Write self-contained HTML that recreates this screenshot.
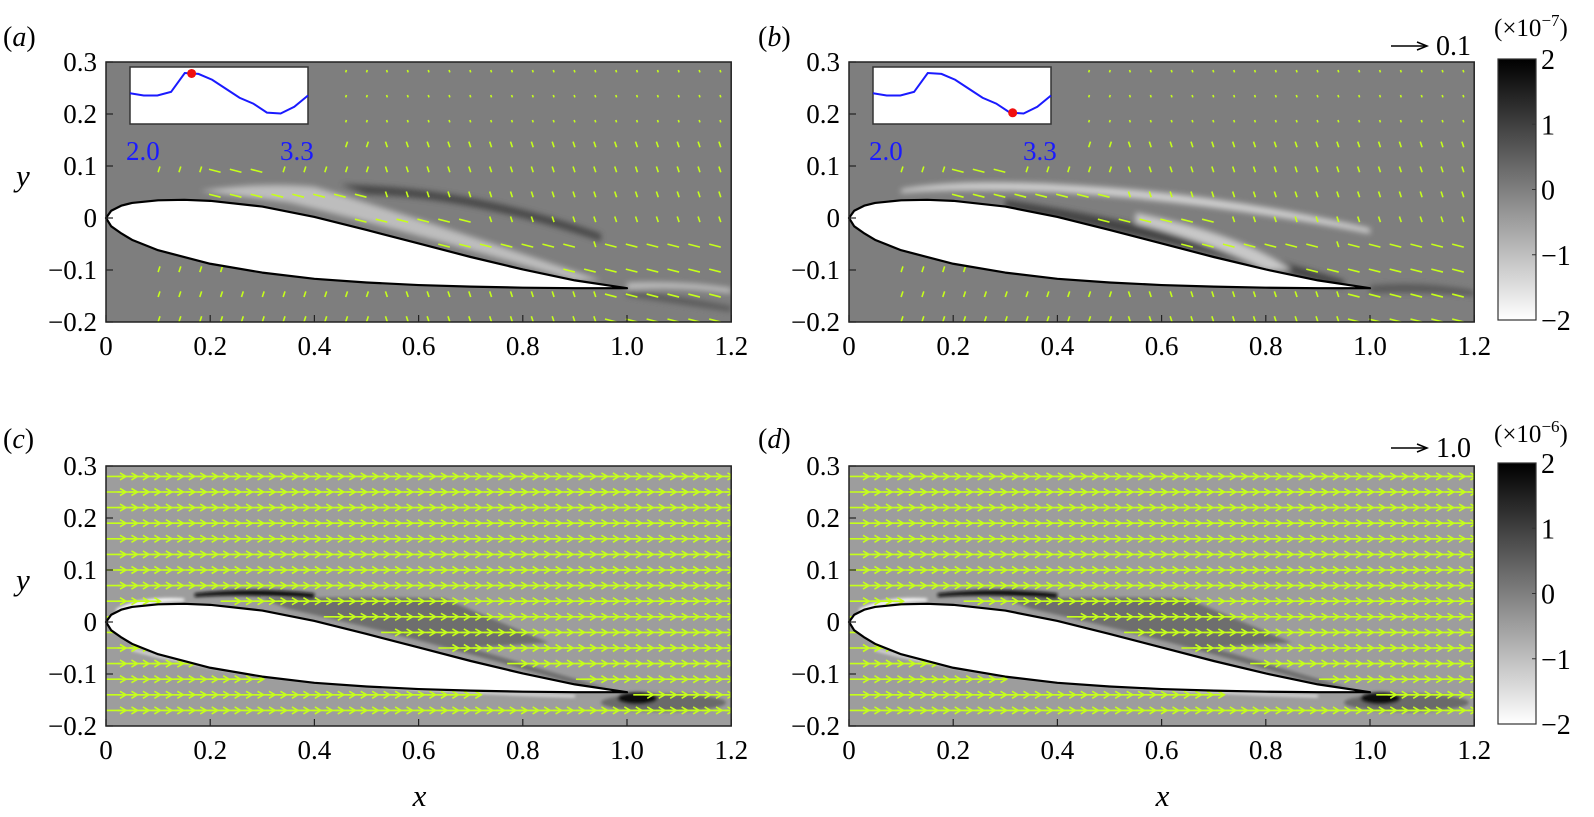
<!DOCTYPE html>
<html><head><meta charset="utf-8">
<style>
body{margin:0;background:#fff;}
svg{display:block;}
svg text{font-family:"Liberation Serif",serif;}
</style></head>
<body>
<svg id="fig" width="1594" height="817" viewBox="0 0 1594 817" xmlns="http://www.w3.org/2000/svg" font-family="Liberation Serif, serif">
<defs>
<filter id="bl" x="-20%" y="-50%" width="140%" height="200%"><feGaussianBlur stdDeviation="3"/></filter>
<filter id="bl2" x="-20%" y="-50%" width="140%" height="200%"><feGaussianBlur stdDeviation="1.5"/></filter>
<linearGradient id="cbar" x1="0" y1="0" x2="0" y2="1"><stop offset="0" stop-color="#000"/><stop offset="0.5" stop-color="#7f7f7f"/><stop offset="1" stop-color="#fff"/></linearGradient>
</defs>
<g id="root"></g>
</svg>
<script>
// ---- data ----
const xTicks=[0,0.2,0.4,0.6,0.8,1.0,1.2];
const xTickLabels=["0","0.2","0.4","0.6","0.8","1.0","1.2"];
const yTicks=[0.3,0.2,0.1,0,-0.1,-0.2];
const yTickLabels=["0.3","0.2","0.1","0","\u22120.1","\u22120.2"];
const upperX=[0,0.01,0.03,0.05,0.1,0.15,0.2,0.3,0.4,0.5,0.6,0.7,0.8,0.9,1.0];
const upperY=[0,0.014,0.024,0.029,0.034,0.035,0.033,0.022,0.002,-0.023,-0.049,-0.075,-0.099,-0.12,-0.135];
const lowerX=[0,0.01,0.03,0.05,0.1,0.2,0.3,0.4,0.5,0.6,0.7,0.8,0.9,1.0];
const lowerY=[0,-0.016,-0.03,-0.042,-0.062,-0.088,-0.105,-0.117,-0.124,-0.129,-0.132,-0.134,-0.135,-0.135];
const insetT=[2.0,2.1,2.2,2.3,2.4,2.5,2.6,2.7,2.8,2.9,3.0,3.1,3.2,3.3];
const insetV=[0.55,0.5,0.5,0.58,1.0,0.98,0.85,0.65,0.45,0.32,0.12,0.1,0.25,0.5];
const insetMarkA=2.45, insetMarkB=3.02;
const rowYcd=[0.28,0.25,0.22,0.19,0.16,0.13,0.10,0.07,0.04,0.01,-0.02,-0.05,-0.08,-0.11,-0.14,-0.17];
const cbLabels=["2","1","0","\u22121","\u22122"];
const cbValues=[2,1,0,-1,-2];

const NS="http://www.w3.org/2000/svg";
const root=document.getElementById('root');
function el(t,a,p){const e=document.createElementNS(NS,t);for(const k in a)e.setAttribute(k,a[k]);(p||root).appendChild(e);return e;}
function txt(a,p){a['font-family']='Liberation Serif, serif';return el('text',a,p);}

const panels=[
 {id:'a',x0:106,y0:62,bg:'#7e7e7e',lx:3,ly:46,top:true,mark:insetMarkA,inset:true},
 {id:'b',x0:849,y0:62,bg:'#7e7e7e',lx:758,ly:46,top:true,mark:insetMarkB,inset:true},
 {id:'c',x0:106,y0:466,bg:'#9d9d9d',lx:3,ly:448,top:false},
 {id:'d',x0:849,y0:466,bg:'#9d9d9d',lx:758,ly:448,top:false}
];
const SX=521, SY=520;

panels.forEach(P=>{
 const X=v=>P.x0+v*SX, Y=v=>P.y0+(0.3-v)*SY;
 const g=el('g',{});
 
 
 const bg=el('rect',{x:X(0),y:Y(0.3),width:X(1.2)-X(0),height:Y(-0.2)-Y(0.3),fill:P.bg},g);
 
 
 const clipId='clip'+P.id;
 const cp=el('clipPath',{id:clipId},g);
 el('rect',{x:X(0),y:Y(0.3),width:X(1.2)-X(0),height:Y(-0.2)-Y(0.3)},cp);
 const fg=el('g',{'clip-path':'url(#'+clipId+')'},g);
 if(P.top){
  const f=el('g',{filter:'url(#bl)'},fg);
  
  
  if(P.id==='a'){
   el('path',{d:`M${X(0.18)},${Y(0.052)} Q${X(0.3)},${Y(0.07)} ${X(0.4)},${Y(0.06)} Q${X(0.6)},${Y(0.0)} ${X(0.95)},${Y(-0.12)} L${X(0.9)},${Y(-0.12)} Q${X(0.6)},${Y(-0.03)} ${X(0.35)},${Y(0.03)} Z`,fill:'#bdbdbd'},f);
   el('path',{d:`M${X(0.45)},${Y(0.065)} Q${X(0.7)},${Y(0.06)} ${X(0.95)},${Y(-0.03)} L${X(0.95)},${Y(-0.045)} Q${X(0.7)},${Y(0.04)} ${X(0.5)},${Y(0.045)} Z`,fill:'#4a4a4a'},f);
   el('path',{d:`M${X(1.0)},${Y(-0.14)} Q${X(1.1)},${Y(-0.15)} ${X(1.2)},${Y(-0.17)} L${X(1.2)},${Y(-0.18)} Q${X(1.1)},${Y(-0.165)} ${X(1.0)},${Y(-0.15)} Z`,fill:'#5a5a5a'},f);
   el('path',{d:`M${X(1.0)},${Y(-0.125)} Q${X(1.1)},${Y(-0.12)} ${X(1.2)},${Y(-0.135)} L${X(1.2)},${Y(-0.145)} Q${X(1.1)},${Y(-0.13)} ${X(1.0)},${Y(-0.138)} Z`,fill:'#c0c0c0'},f);
  } else {
   el('path',{d:`M${X(0.1)},${Y(0.055)} Q${X(0.2)},${Y(0.075)} ${X(0.4)},${Y(0.065)} Q${X(0.7)},${Y(0.05)} ${X(1.0)},${Y(-0.02)} L${X(1.0)},${Y(-0.03)} Q${X(0.7)},${Y(0.03)} ${X(0.4)},${Y(0.05)} Q${X(0.2)},${Y(0.058)} ${X(0.1)},${Y(0.048)} Z`,fill:'#cfcfcf'},f);
   el('path',{d:`M${X(0.3)},${Y(0.035)} Q${X(0.6)},${Y(-0.01)} ${X(0.95)},${Y(-0.12)} L${X(0.95)},${Y(-0.135)} Q${X(0.6)},${Y(-0.04)} ${X(0.3)},${Y(0.02)} Z`,fill:'#454545'},f);
   el('path',{d:`M${X(0.55)},${Y(0.01)} Q${X(0.75)},${Y(-0.03)} ${X(0.85)},${Y(-0.1)} L${X(0.8)},${Y(-0.1)} Q${X(0.7)},${Y(-0.05)} ${X(0.55)},${Y(-0.01)} Z`,fill:'#c8c8c8'},f);
   el('path',{d:`M${X(1.0)},${Y(-0.13)} Q${X(1.1)},${Y(-0.12)} ${X(1.2)},${Y(-0.14)} L${X(1.2)},${Y(-0.15)} Q${X(1.1)},${Y(-0.14)} ${X(1.0)},${Y(-0.145)} Z`,fill:'#5a5a5a'},f);
  }
 } else {
  const f=el('g',{filter:'url(#bl2)'},fg);
  
  
  el('path',{d:`M${X(0.3)},${Y(0.045)} Q${X(0.5)},${Y(0.05)} ${X(0.65)},${Y(0.045)} L${X(0.85)},${Y(-0.04)} L${X(0.7)},${Y(-0.05)} L${X(0.97)},${Y(-0.13)} L${X(0.9)},${Y(-0.12)} Q${X(0.6)},${Y(-0.03)} ${X(0.35)},${Y(0.025)} Z`,fill:'#6e6e6e'},f);
  el('path',{d:`M${X(0.17)},${Y(0.055)} Q${X(0.28)},${Y(0.068)} ${X(0.4)},${Y(0.055)} L${X(0.4)},${Y(0.045)} Q${X(0.28)},${Y(0.055)} ${X(0.17)},${Y(0.048)} Z`,fill:'#0a0a0a'},f);
  el('path',{d:`M${X(0.02)},${Y(0.025)} Q${X(0.07)},${Y(0.05)} ${X(0.15)},${Y(0.045)} L${X(0.15)},${Y(0.04)} Q${X(0.07)},${Y(0.04)} ${X(0.02)},${Y(0.015)} Z`,fill:'#fff'},f);
  el('path',{d:`M${X(0.05)},${Y(-0.05)} Q${X(0.3)},${Y(-0.12)} ${X(0.9)},${Y(-0.14)} L${X(0.9)},${Y(-0.145)} Q${X(0.3)},${Y(-0.125)} ${X(0.05)},${Y(-0.055)} Z`,fill:'#e5e5e5'},f);
  el('ellipse',{cx:X(1.07),cy:Y(-0.155),rx:X(0.12)-X(0),ry:9,fill:'#6a6a6a'},f);
  el('ellipse',{cx:X(1.02),cy:Y(-0.147),rx:20,ry:6,fill:'#080808'},f);
 }
 const vg=el('g',{stroke:'#c6ff1a','stroke-width':1.6,fill:'none'},fg);
 
 
 if(!P.top){
  rowYcd.forEach(ry=>{
   for(let xx=0.0;xx<1.2;xx+=0.022){
    if(xx>-0.01 && xx<1.0){
     let up=interp(upperX,upperY,xx), lo=interp(lowerX,lowerY,xx);
     if(ry<up+0.008 && ry>lo-0.008) continue;
    }
    const x1=X(xx), y1=Y(ry), x2=x1+20;
    el('line',{x1:x1,y1:y1,x2:x2,y2:y1},vg);
    el('path',{d:`M${x2-6},${y1-3.5} L${x2},${y1} L${x2-6},${y1+3.5}`},vg);
   }
  });
 } else {
  for(let ry=0.28; ry>-0.2; ry-=0.048){
   for(let xx=0.1;xx<1.2;xx+=0.04){
    if(P.inset && xx<0.42 && ry>0.12) continue;
    let up=interp(upperX,upperY,Math.min(xx,1)), lo=interp(lowerX,lowerY,Math.min(xx,1));
    if(xx<1.0 && ry<up+0.008 && ry>lo-0.008) continue;
    const near=ry<up+0.07 && ry>up-0.02 && xx<1.05 && xx>0.2;
    const wake=xx>0.95 && ry<-0.05;
    const L=near||wake?12:(ry<0.15?6:2.5);
    const ang=near||wake?Math.PI*0.92:(xx>0.5?Math.PI*0.6:Math.PI*0.4);
    const x1=X(xx),y1=Y(ry);
    el('line',{x1:x1,y1:y1,x2:x1+L*Math.cos(ang),y2:y1-L*Math.sin(ang)},vg);
   }
  }
 }
 let d='M'+upperX.map((v,i)=>X(v)+','+Y(upperY[i])).join(' L');
 d+=' L'+lowerX.map((v,i)=>{const j=lowerX.length-1-i;return X(lowerX[j])+','+Y(lowerY[j]);}).join(' L')+' Z';
 const af=el('path',{d:d,fill:'#fff',stroke:'#000','stroke-width':2.2,'stroke-linejoin':'round'},g);
 
 
 const fr=el('rect',{x:X(0),y:Y(0.3),width:X(1.2)-X(0),height:Y(-0.2)-Y(0.3),fill:'none',stroke:'#222','stroke-width':1.5},g);
 
 
 xTicks.forEach((t,i)=>{
  el('line',{x1:X(t),x2:X(t),y1:Y(-0.2),y2:Y(-0.2)-7,stroke:'#222','stroke-width':1.2},g);
  const tx=txt({x:X(t),y:Y(-0.2)+33,'font-size':27,'text-anchor':'middle'},g);
  tx.textContent=xTickLabels[i];
  
  
 });
 yTicks.forEach((t,i)=>{
  el('line',{x1:X(0),x2:X(0)+7,y1:Y(t),y2:Y(t),stroke:'#222','stroke-width':1.2},g);
  const tx=txt({x:X(0)-9,y:Y(t)+9,'font-size':27,'text-anchor':'end'},g);
  tx.textContent=yTickLabels[i];
  
  
 });
 const lb=txt({x:P.lx,y:P.ly,'font-size':28},g);
 lb.innerHTML='(<tspan font-style="italic">'+P.id+'</tspan>)';
 
 
 if(P.x0<500){
  const yl=txt({x:16,y:Y(0.1)+20,'font-size':31,'font-style':'italic'},g);
  yl.textContent='y';
  
  
 }
 if(!P.top){
  const xl=txt({x:X(0.6)-6,y:806,'font-size':31,'font-style':'italic'},g);
  xl.textContent='x';
  
  
 }
 if(P.inset){
  const ig=el('g',{},g);
  
  
  const ix0=X(0)+24, iw=178, iy0=67, ih=57;
  el('rect',{x:ix0,y:iy0,width:iw,height:ih,fill:'#fff',stroke:'#333','stroke-width':1.5},ig);
  const IX=t=>ix0+(t-2.0)/1.3*iw, IY=v=>iy0+ih-6-v*(ih-12);
  const ln=el('polyline',{points:insetT.map((t,i)=>IX(t)+','+IY(insetV[i])).join(' '),fill:'none',stroke:'#1a1aff','stroke-width':2},ig);
  
  
  const mv=interp(insetT,insetV,P.mark);
  const dot=el('circle',{cx:IX(P.mark),cy:IY(mv),r:4.5,fill:'#f01010'},ig);
  
  
  const t1=txt({x:ix0-4,y:160,'font-size':27,fill:'#1a1aff'},ig);t1.textContent='2.0';
  const t2=txt({x:ix0+iw-28,y:160,'font-size':27,fill:'#1a1aff'},ig);t2.textContent='3.3';
 }
});

function interp(xs,ys,x){for(let i=1;i<xs.length;i++){if(x<=xs[i]){const t=(x-xs[i-1])/(xs[i]-xs[i-1]);return ys[i-1]+t*(ys[i]-ys[i-1]);}}return ys[ys.length-1];}

[{top:59,bot:320,exp:'\u22127',ref:'0.1',ty:36,ay:55},{top:463,bot:724,exp:'\u22126',ref:'1.0',ty:442,ay:457}].forEach((C,k)=>{
 const g=el('g',{});
 
 
 el('rect',{x:1498,y:C.top,width:38,height:C.bot-C.top,fill:'url(#cbar)',stroke:'#333','stroke-width':1.2},g);
 cbValues.forEach((v,i)=>{
  const y=C.top+(2-v)/4*(C.bot-C.top);
  el('line',{x1:1532,x2:1536,y1:y,y2:y,stroke:'#333'},g);
  const t=txt({x:1541,y:y+10,'font-size':28},g);t.textContent=cbLabels[i];
 });
 const u=txt({x:1494,y:C.ty,'font-size':25},g);
 u.innerHTML='(\u00d710<tspan dy="-10" font-size="17">'+C.exp+'</tspan><tspan dy="10">)</tspan>';
 
 
 const a=el('g',{},g);
 
 
 el('line',{x1:1391,x2:1425,y1:C.ay-9,y2:C.ay-9,stroke:'#000','stroke-width':1.5},a);
 el('path',{d:`M1417,${C.ay-13} L1427,${C.ay-9} L1417,${C.ay-5}`,fill:'none',stroke:'#000','stroke-width':1.5},a);
 const rt=txt({x:1436,y:C.ay,'font-size':28},a);rt.textContent=C.ref;
});
</script>
</body></html>
